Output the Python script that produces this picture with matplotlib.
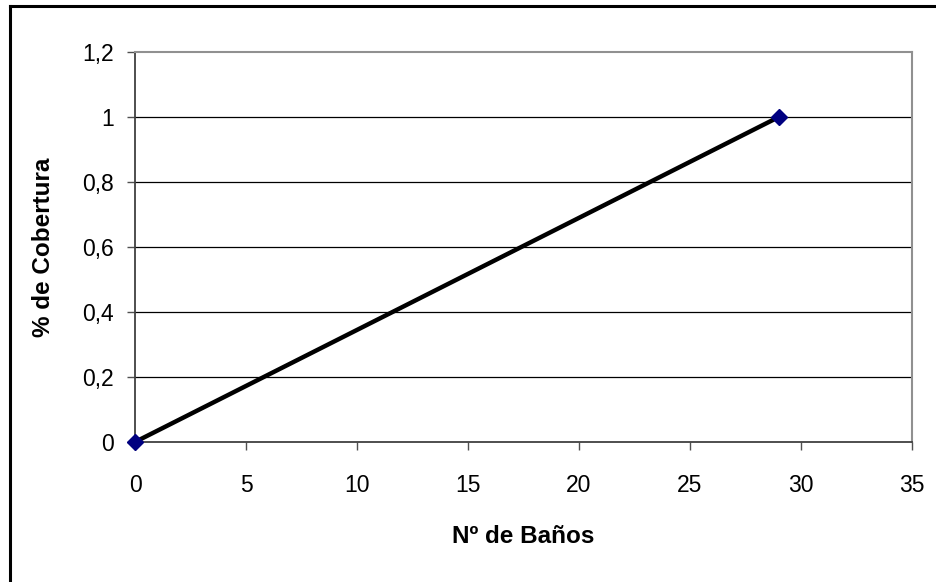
import matplotlib.pyplot as plt
from matplotlib.lines import Line2D

banos = [0, 29]
cobertura = [0, 1]
xticks = [0, 5, 10, 15, 20, 25, 30, 35]
yticks = [0, 0.2, 0.4, 0.6, 0.8, 1.0, 1.2]
ytick_labels = ['0', '0,2', '0,4', '0,6', '0,8', '1', '1,2']

plt.rcParams['font.family'] = 'Liberation Sans'

fig = plt.figure(figsize=(9.37, 5.82), dpi=100)
ax = fig.add_axes([135/937, 1 - 442/582, 777/937, 390/582])

for y in yticks[1:-1]:
    ax.axhline(y, color='black', lw=0.9, zorder=1)

ax.plot(banos, cobertura, color='black', lw=3.2, zorder=3,
        marker='D', markersize=8, markerfacecolor='#000080',
        markeredgecolor='#000080', clip_on=False)

ax.set_xlim(0, 35)
ax.set_ylim(0, 1.2)
ax.set_xticks(xticks)
ax.set_yticks(yticks)
ax.set_yticklabels(ytick_labels)
ax.tick_params(labelsize=16.5, length=6, width=1, color='#505050', pad=9)
ax.tick_params(axis='x', pad=17)

for side in ['left', 'bottom']:
    ax.spines[side].set_color('#404040')
    ax.spines[side].set_linewidth(1.3)
for side in ['top', 'right']:
    ax.spines[side].set_color('#909090')
    ax.spines[side].set_linewidth(1.5)

ax.set_xlabel('Nº de Baños', fontsize=17.5, fontweight='bold', labelpad=20)
ax.set_ylabel('% de Cobertura', fontsize=17.5, fontweight='bold', labelpad=20)

# chart frame, left and top edges
fig.add_artist(Line2D([10/937, 10/937], [0, 1 - 6/582], color='black', lw=2.2))
fig.add_artist(Line2D([10/937, 1], [1 - 6/582, 1 - 6/582], color='black', lw=2.2))

fig.savefig('out.png', dpi=100)
